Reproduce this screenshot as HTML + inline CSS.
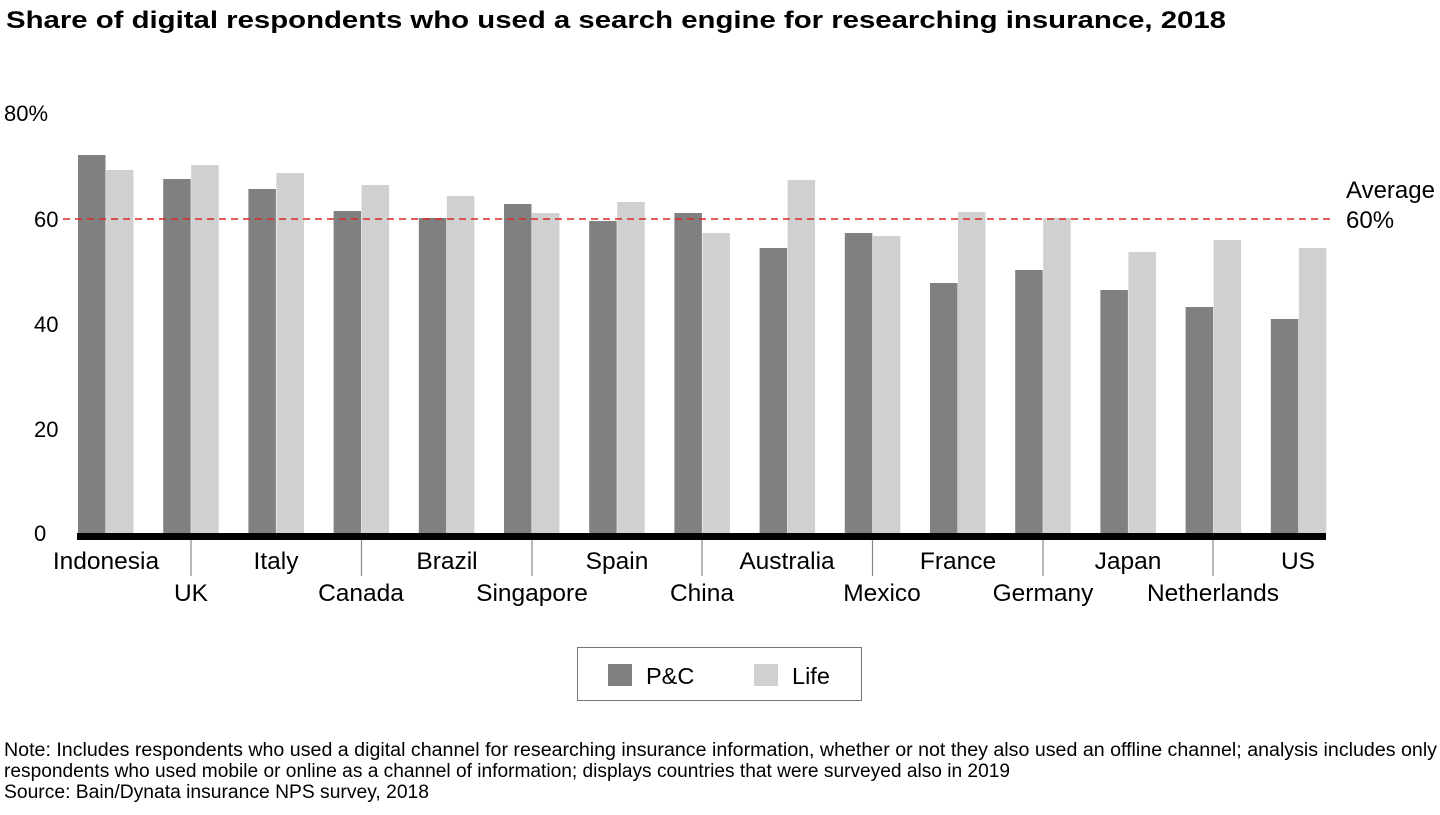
<!DOCTYPE html>
<html><head><meta charset="utf-8"><style>
body{margin:0;background:#fff;font-family:"Liberation Sans",Arial,sans-serif;}
</style></head><body>
<svg width="1440" height="810" xmlns="http://www.w3.org/2000/svg" font-family="Liberation Sans, Arial, sans-serif">
<text x="6" y="28" font-size="24" font-weight="bold" fill="#000" textLength="1220" lengthAdjust="spacingAndGlyphs">Share of digital respondents who used a search engine for researching insurance, 2018</text>
<g font-size="22" fill="#000">
<text x="4" y="121">80%</text>
<text x="34" y="227">60</text>
<text x="34" y="332">40</text>
<text x="34" y="437">20</text>
<text x="34" y="541">0</text>
</g>
<g id="bars"></g>
<line x1="63" y1="219" x2="1330" y2="219" stroke="#d62828" stroke-width="1.5" stroke-dasharray="7,5"/>
<text x="1346" y="198" font-size="24">Average</text>
<text x="1346" y="228" font-size="24">60%</text>
<rect x="77" y="533" width="1249" height="7" fill="#000"/>
<g stroke="#888" stroke-width="1.2">
<line x1="191" y1="540" x2="191" y2="576"/><line x1="361.5" y1="540" x2="361.5" y2="576"/>
<line x1="532" y1="540" x2="532" y2="576"/><line x1="702" y1="540" x2="702" y2="576"/>
<line x1="872.5" y1="540" x2="872.5" y2="576"/><line x1="1043" y1="540" x2="1043" y2="576"/>
<line x1="1213" y1="540" x2="1213" y2="576"/>
</g>
<g font-size="24.5" text-anchor="middle">
<text x="106" y="569">Indonesia</text><text x="191" y="601">UK</text>
<text x="276" y="569">Italy</text><text x="361" y="601">Canada</text>
<text x="447" y="569">Brazil</text><text x="532" y="601">Singapore</text>
<text x="617" y="569">Spain</text><text x="702" y="601">China</text>
<text x="787" y="569">Australia</text><text x="882" y="601">Mexico</text>
<text x="958" y="569">France</text><text x="1043" y="601">Germany</text>
<text x="1128" y="569">Japan</text><text x="1213" y="601">Netherlands</text>
<text x="1298" y="569">US</text>
</g>
<rect x="577.5" y="647.5" width="284" height="53" fill="#fff" stroke="#777" stroke-width="1"/>
<rect x="608" y="664" width="24" height="22" fill="#808080"/>
<text x="646" y="684" font-size="23.5">P&amp;C</text>
<rect x="754" y="664" width="24" height="22" fill="#d0d0d0"/>
<text x="792" y="684" font-size="23.5">Life</text>
<g font-size="19">
<text x="4" y="756" textLength="1433" lengthAdjust="spacingAndGlyphs">Note: Includes respondents who used a digital channel for researching insurance information, whether or not they also used an offline channel; analysis includes only</text>
<text x="4" y="777" textLength="1006" lengthAdjust="spacingAndGlyphs">respondents who used mobile or online as a channel of information; displays countries that were surveyed also in 2019</text>
<text x="4" y="798" textLength="425" lengthAdjust="spacingAndGlyphs">Source: Bain/Dynata insurance NPS survey, 2018</text>
</g>
</svg>
<script>
var tops=[[155,170],[179,165],[189,173],[211,185],[218,196],[204,213],[221,202],[213,233],[248,180],[233,236],[283,212],[270,218],[290,252],[307,240],[319,248]];
var g=document.getElementById('bars'),s='';
tops.forEach(function(t,i){var x=78+i*85.2;
s+='<rect x="'+x+'" y="'+t[0]+'" width="27.5" height="'+(533-t[0])+'" fill="#808080"/>';
s+='<rect x="'+(x+28)+'" y="'+t[1]+'" width="27.5" height="'+(533-t[1])+'" fill="#d0d0d0"/>';});
g.innerHTML=s;
</script>
</body></html>
